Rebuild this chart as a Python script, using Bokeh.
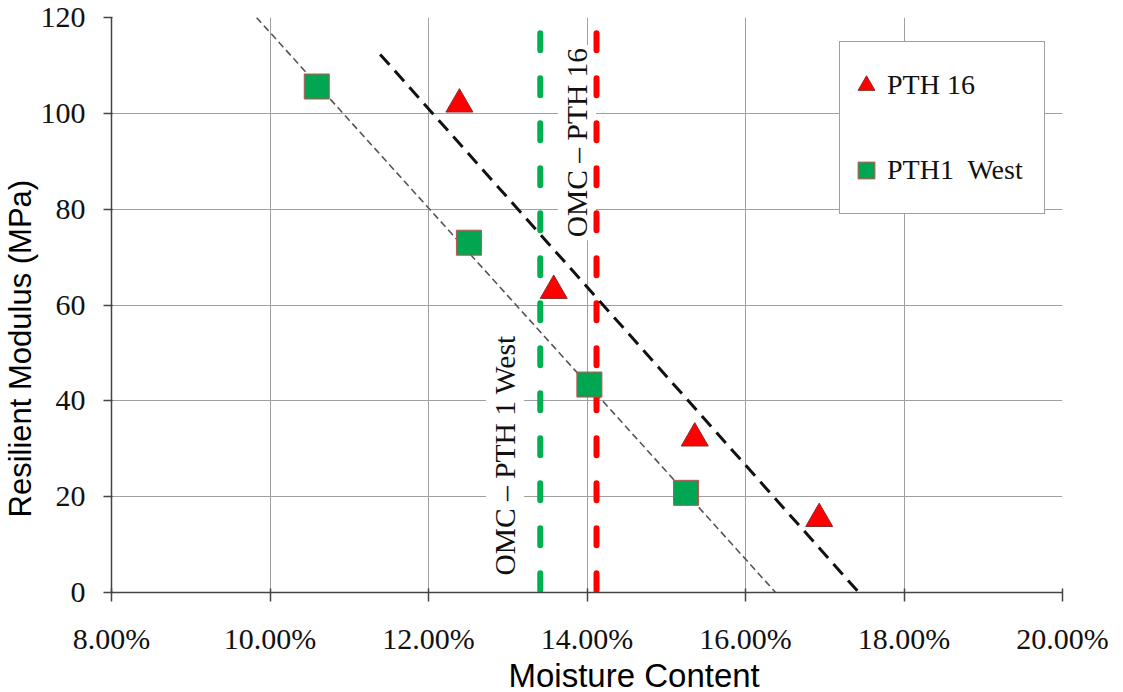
from math import pi
from bokeh.plotting import figure
from bokeh.models import (FixedTicker, NumeralTickFormatter, Label, Legend, LegendItem,
                          ColumnDataSource, Title)
from bokeh.embed import file_html
from bokeh.resources import INLINE

# ---- data ----
pth16_moisture = [0.1239, 0.1358, 0.1536, 0.1693]
pth16_modulus = [101.9, 63.0, 32.2, 15.4]
pth1w_moisture = [0.1059, 0.1251, 0.1403, 0.1525]
pth1w_modulus = [105.6, 73.0, 43.4, 20.8]

trend16_x = [0.1139, 0.1743]
trend16_y = [112.3, 0.0]
trend1w_x = [0.0983, 0.1638]
trend1w_y = [120.0, 0.0]

omc_pth1w = 0.1341
omc_pth16 = 0.1412
omc_y = [116.7, 0.0]

x_ticks = [0.08, 0.10, 0.12, 0.14, 0.16, 0.18, 0.20]
y_ticks = [0, 20, 40, 60, 80, 100, 120]

SERIF = "Liberation Serif"
SANS = "Liberation Sans"

p = figure(width=1118, height=692, output_backend="svg", toolbar_location=None,
           x_range=(0.08, 0.20), y_range=(0, 120),
           min_border_left=110, min_border_right=56, min_border_top=17, min_border_bottom=100)
p.outline_line_color = None
p.background_fill_color = "white"

# axes
p.xaxis.ticker = FixedTicker(ticks=x_ticks)
p.yaxis.ticker = FixedTicker(ticks=y_ticks)
p.xaxis.formatter = NumeralTickFormatter(format="0.00%")
for ax in (p.xaxis, p.yaxis):
    ax.major_label_text_font = SERIF
    ax.major_label_text_font_size = "30px"
    ax.major_label_text_color = "#111111"
    ax.axis_line_color = "#444444"
    ax.axis_line_width = 1.5
    ax.major_tick_line_color = "#444444"
    ax.major_tick_line_width = 1.5
    ax.minor_tick_line_color = None
p.xaxis.major_tick_out = 9
p.xaxis.major_tick_in = 4
p.yaxis.major_tick_out = 8
p.yaxis.major_tick_in = 1
p.xaxis.major_label_standoff = 20
p.yaxis.major_label_standoff = 18

p.grid.grid_line_color = "#A0A0A0"
p.grid.grid_line_width = 1
p.xgrid.ticker = FixedTicker(ticks=x_ticks)
p.ygrid.ticker = FixedTicker(ticks=y_ticks)

# OMC labels (under the glyphs, white box hides the grid)
p.add_layout(Label(x=0.13874, y=93.9, text="OMC – PTH 16", angle=pi / 2,
                   text_align="center", text_baseline="middle",
                   text_font=SERIF, text_font_size="29.5px", text_color="#111111",
                   background_fill_color="white", padding=3, level="underlay"))
p.add_layout(Label(x=0.12967, y=28.6, text="OMC – PTH 1 West", angle=pi / 2,
                   text_align="center", text_baseline="middle",
                   text_font=SERIF, text_font_size="29.5px", text_color="#111111",
                   background_fill_color="white", padding=3, level="underlay"))

# OMC vertical lines
p.line(x=[omc_pth1w, omc_pth1w], y=omc_y, line_color="#00B050", line_width=6,
       line_dash="17 28", line_cap="round")
p.line(x=[omc_pth16, omc_pth16], y=omc_y, line_color="#FF0000", line_width=6,
       line_dash="17 28", line_cap="round")

# trend lines
p.line(x=trend1w_x, y=trend1w_y, line_color="#555555", line_width=1.6, line_dash="7 4")
p.line(x=trend16_x, y=trend16_y, line_color="#111111", line_width=3, line_dash="14 8")

# points
src16 = ColumnDataSource(dict(x=pth16_moisture, y=pth16_modulus))
src1w = ColumnDataSource(dict(x=pth1w_moisture, y=pth1w_modulus))
r16 = p.scatter("x", "y", source=src16, marker="triangle", size=27,
                fill_color="#FF0000", line_color="#8B2A2A", line_width=1)
r1w = p.scatter("x", "y", source=src1w, marker="square", size=25,
                fill_color="#00A651", line_color="#C0504D", line_width=1)

# axis titles (placed as titles so they can sit off-centre like the reference)
p.add_layout(Title(text="Moisture Content", align="left", offset=397, standoff=-6,
                   text_font=SANS, text_font_size="33px", text_font_style="normal",
                   text_color="#000000"), "below")
p.add_layout(Title(text="Resilient Modulus (MPa)", align="left", offset=75, standoff=0,
                   text_font=SANS, text_font_size="31px", text_font_style="normal",
                   text_color="#000000"), "left")

# legend
legend = Legend(items=[LegendItem(label="PTH 16", renderers=[r16]),
                       LegendItem(label="PTH1  West", renderers=[r1w])],
                location=(728, 378), margin=0, padding=5, spacing=9,
                glyph_width=42, glyph_height=76, label_standoff=0, label_width=152,
                label_text_font=SERIF, label_text_font_size="28px",
                label_text_color="#111111",
                border_line_color="#404040", border_line_width=1.5,
                background_fill_color="white", background_fill_alpha=1.0)
p.add_layout(legend)

open("out.html", "w").write(file_html(p, INLINE))
